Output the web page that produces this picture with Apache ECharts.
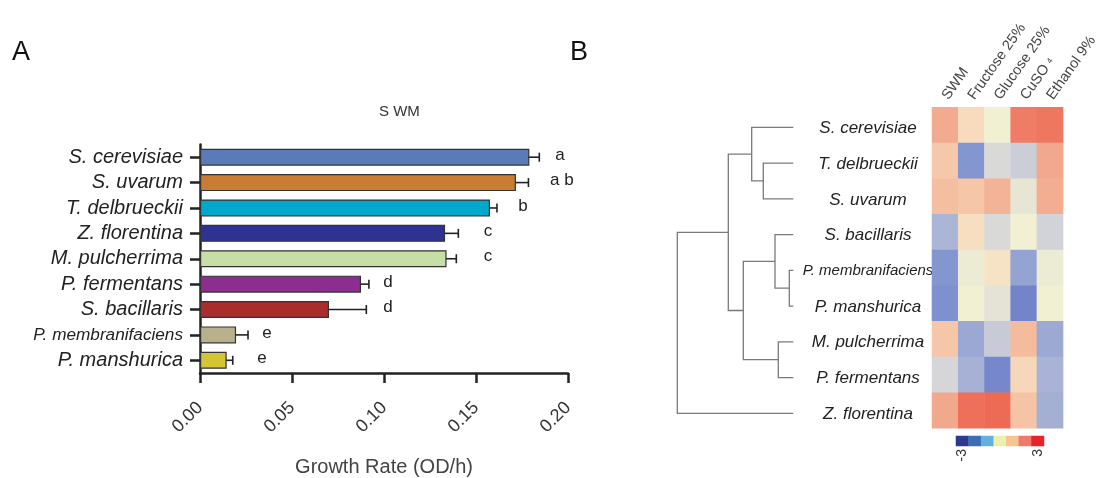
<!DOCTYPE html>
<html>
<head>
<meta charset="utf-8">
<script src="https://cdn.jsdelivr.net/npm/echarts@6/dist/echarts.min.js"></script>
<style>html,body{margin:0;padding:0;background:#fff;}#c{width:1100px;height:478px;}</style>
</head>
<body>
<div id="c"></div>
<script>
// ---- Panel A data ----
const barCategories = ['S. cerevisiae','S. uvarum','T. delbrueckii','Z. florentina','M. pulcherrima','P. fermentans','S. bacillaris','P. membranifaciens','P. manshurica'];
const growthRates  = [0.179, 0.1717, 0.1576, 0.1332, 0.134, 0.0875, 0.0701, 0.0196, 0.0145];
const growthErrors = [0.0054, 0.0068, 0.0038, 0.0072, 0.0053, 0.0043, 0.0203, 0.0065, 0.0033];
const groupLetters = ['a','a b','b','c','c','d','d','e','e'];
const letterX      = [0.1957, 0.1967, 0.1755, 0.1565, 0.1565, 0.1022, 0.1022, 0.0364, 0.0337];
const barColors    = ['#5a7ab8','#c97c32','#00a9cc','#2e3391','#c6dfa6','#8c2d90','#aa2d2e','#b8b18c','#d3c534'];
const xAxisMin = 0, xAxisMax = 0.2, xAxisStep = 0.05;

// ---- Panel B data ----
const heatRows = ['S. cerevisiae','T. delbrueckii','S. uvarum','S. bacillaris','P. membranifaciens','P. manshurica','M. pulcherrima','P. fermentans','Z. florentina'];
const heatCols = ['SWM','Fructose 25%','Glucose 25%','CuSO4','Ethanol 9%'];
const heatValues = [
  [ 1.45,  0.55,  0.0 ,  2.35,  2.45],
  [ 0.9 , -2.0 , -0.45, -0.65,  1.5 ],
  [ 1.1 ,  0.95,  1.3 , -0.2 ,  1.4 ],
  [-1.15,  0.45, -0.45,  0.0 , -0.55],
  [-2.0 , -0.1 ,  0.35, -1.65, -0.1 ],
  [-2.15,  0.0 , -0.25, -2.45,  0.0 ],
  [ 0.95, -1.5 , -0.7 ,  1.15, -1.45],
  [-0.5 , -1.25, -2.35,  0.6 , -1.2 ],
  [ 1.5 ,  2.6 ,  2.7 ,  1.0 , -1.3 ]
];
// dendrogram merges: [childA, childB, height]; leaves 0..8 follow heatRows, new nodes numbered from 9
const dendroMerges = [[1,2,30],[0,9,41.6],[4,5,4],[3,11,18.3],[6,7,15],[12,13,50],[10,14,65],[15,8,116]];
const legendValues = [-3,-2,-1,0,1,2,3];
const legendColors = ['#2b3a90','#3b6fb2','#62b0dc','#efefad','#f6c48e','#ef7a6b','#e8232a'];
const heatScale = ['#5d70c1','#7182c9','#8396cf','#9aa8d3','#b2bad6','#d6d6d8','#f2f0d3','#f8dcbf','#f5c3a5','#f2a88c','#f08d74','#ee745e','#ec5c48'];

// build dendrogram segments
const nodeY = [], nodeH = [];
for (let i = 0; i < heatRows.length; i++) { nodeY.push(i); nodeH.push(0); }
const dendroData = dendroMerges.map(m => {
  const a = m[0], b = m[1], h = m[2];
  const item = [nodeH[a], nodeY[a], nodeH[b], nodeY[b], h];
  nodeY.push((nodeY[a] + nodeY[b]) / 2); nodeH.push(h);
  return item;
});

const heatData = [];
heatValues.forEach((row, r) => row.forEach((v, c) => heatData.push([c, r, v])));

const FONT = 'Liberation Sans';
const LONG = 'P. membranifaciens';
const chart = echarts.init(document.getElementById('c'), null, {renderer: 'canvas'});
chart.setOption({
  animation: false,
  backgroundColor: '#fff',
  graphic: [
    {type: 'text', left: 12, top: 39, style: {text: 'A', font: '27px "Liberation Sans"', fill: '#111'}},
    {type: 'text', left: 570, top: 39, style: {text: 'B', font: '27px "Liberation Sans"', fill: '#111'}},
    {type: 'text', left: 379, top: 104, style: {text: 'S WM', font: '15px "Liberation Sans"', fill: '#333', textAlign: 'center'}}
  ],
  grid: [
    {left: 200, top: 144.5, width: 368, height: 238.5},
    {left: 677.3, top: 109.4, width: 116, height: 321.75},
    {left: 932, top: 107.3, width: 135, height: 321},
    {left: 956, top: 436, width: 88, height: 10}
  ],
  xAxis: [
    {type: 'value', gridIndex: 0, min: xAxisMin, max: xAxisMax, interval: xAxisStep,
     splitLine: {show: false},
     axisLine: {show: true, lineStyle: {color: '#222', width: 2.5}},
     axisTick: {show: true, length: 10, lineStyle: {color: '#222', width: 2.5}},
     axisLabel: {rotate: 45, margin: 32, fontSize: 18, fontFamily: FONT, color: '#333', formatter: v => v.toFixed(2)},
     name: 'Growth Rate (OD/h)', nameLocation: 'middle', nameGap: 84,
     nameTextStyle: {fontSize: 20, fontFamily: FONT, color: '#444'}},
    {type: 'value', gridIndex: 1, min: 0, max: 116, inverse: true, show: false},
    {type: 'category', gridIndex: 2, position: 'top', data: heatCols,
     axisLine: {show: false}, axisTick: {show: false},
     axisLabel: {rotate: -55, margin: 9, interval: 0, fontSize: 14.5, fontFamily: FONT, color: '#444',
       formatter: v => v === 'CuSO4' ? '{n|CuSO }{s|4}' : v,
       rich: {n: {fontSize: 14.5, fontFamily: FONT, color: '#444'}, s: {fontSize: 8, fontFamily: FONT, color: '#444'}}}},
    {type: 'category', gridIndex: 3, data: legendValues.map(String),
     axisLine: {show: false}, axisTick: {show: false},
     axisLabel: {rotate: 90, margin: 3, fontSize: 14, fontFamily: FONT, color: '#333', interval: 0,
       formatter: (v, i) => (i === 0 || i === legendValues.length - 1) ? v : ''}}
  ],
  yAxis: [
    {type: 'category', gridIndex: 0, data: barCategories, inverse: true,
     axisLine: {show: true, lineStyle: {color: '#222', width: 2.5}},
     axisTick: {show: true, alignWithLabel: true, length: 10, lineStyle: {color: '#222', width: 2.5}},
     axisLabel: {interval: 0, margin: 17, fontSize: 20, fontStyle: 'italic', fontFamily: FONT, color: '#222',
       formatter: v => v === LONG ? '{s|' + v + '}' : v,
       rich: {s: {fontSize: 17.2, fontStyle: 'italic', fontFamily: FONT, color: '#222'}}}},
    {type: 'value', gridIndex: 1, min: -0.5, max: 8.5, inverse: true, show: false},
    {type: 'category', gridIndex: 2, data: heatRows, inverse: true,
     axisLine: {show: false}, axisTick: {show: false},
     axisLabel: {interval: 0, margin: 64, align: 'center', padding: [7, 0, 0, 0], fontSize: 17, fontStyle: 'italic', fontFamily: FONT, color: '#222',
       formatter: v => v === LONG ? '{s|' + v + '}' : v,
       rich: {s: {fontSize: 15, fontStyle: 'italic', fontFamily: FONT, color: '#222'}}}},
    {type: 'category', gridIndex: 3, data: ['k'], show: false}
  ],
  visualMap: [
    {type: 'continuous', min: -3, max: 3, seriesIndex: 4, show: false, inRange: {color: heatScale}},
    {type: 'piecewise', seriesIndex: 5, show: false,
     pieces: legendValues.map((v, i) => ({value: v, color: legendColors[i]}))}
  ],
  series: [
    {type: 'bar', xAxisIndex: 0, yAxisIndex: 0, barWidth: 17,
     data: growthRates.map((v, i) => ({value: v, itemStyle: {color: barColors[i]}})),
     itemStyle: {borderColor: '#333', borderWidth: 1.2}},
    {type: 'custom', xAxisIndex: 0, yAxisIndex: 0,
     data: growthRates.map((v, i) => [v - growthErrors[i], i, v + growthErrors[i]]),
     encode: {x: [0, 2], y: 1},
     renderItem: (params, api) => {
       const lo = api.coord([api.value(0), api.value(1)]);
       const hi = api.coord([api.value(2), api.value(1)]);
       const c = 4.5;
       const st = {stroke: '#222', lineWidth: 1.6};
       return {type: 'group', children: [
         {type: 'line', shape: {x1: lo[0], y1: lo[1], x2: hi[0], y2: hi[1]}, style: st},
         {type: 'line', shape: {x1: lo[0], y1: lo[1] - c, x2: lo[0], y2: lo[1] + c}, style: st},
         {type: 'line', shape: {x1: hi[0], y1: hi[1] - c, x2: hi[0], y2: hi[1] + c}, style: st}
       ]};
     }},
    {type: 'custom', xAxisIndex: 0, yAxisIndex: 0,
     data: letterX.map((x, i) => [x, i]),
     renderItem: (params, api) => {
       const p = api.coord([api.value(0), api.value(1)]);
       return {type: 'text', x: p[0], y: p[1] - 2,
         style: {text: groupLetters[params.dataIndex], font: '17px "Liberation Sans"', fill: '#222', textAlign: 'center', textVerticalAlign: 'middle'}};
     }},
    {type: 'custom', xAxisIndex: 1, yAxisIndex: 1, data: dendroData,
     encode: {x: [0, 2, 4], y: [1, 3]},
     renderItem: (params, api) => {
       const a = api.coord([api.value(0), api.value(1)]);
       const ah = api.coord([api.value(4), api.value(1)]);
       const bh = api.coord([api.value(4), api.value(3)]);
       const b = api.coord([api.value(2), api.value(3)]);
       return {type: 'polyline', shape: {points: [a, ah, bh, b]},
         style: {stroke: '#7a7a7a', lineWidth: 1.3, fill: null}};
     }},
    {type: 'heatmap', xAxisIndex: 2, yAxisIndex: 2, data: heatData, itemStyle: {borderWidth: 0}},
    {type: 'heatmap', xAxisIndex: 3, yAxisIndex: 3, data: legendValues.map((v, i) => [i, 0, v]), itemStyle: {borderWidth: 0}}
  ]
});
</script>
</body>
</html>
